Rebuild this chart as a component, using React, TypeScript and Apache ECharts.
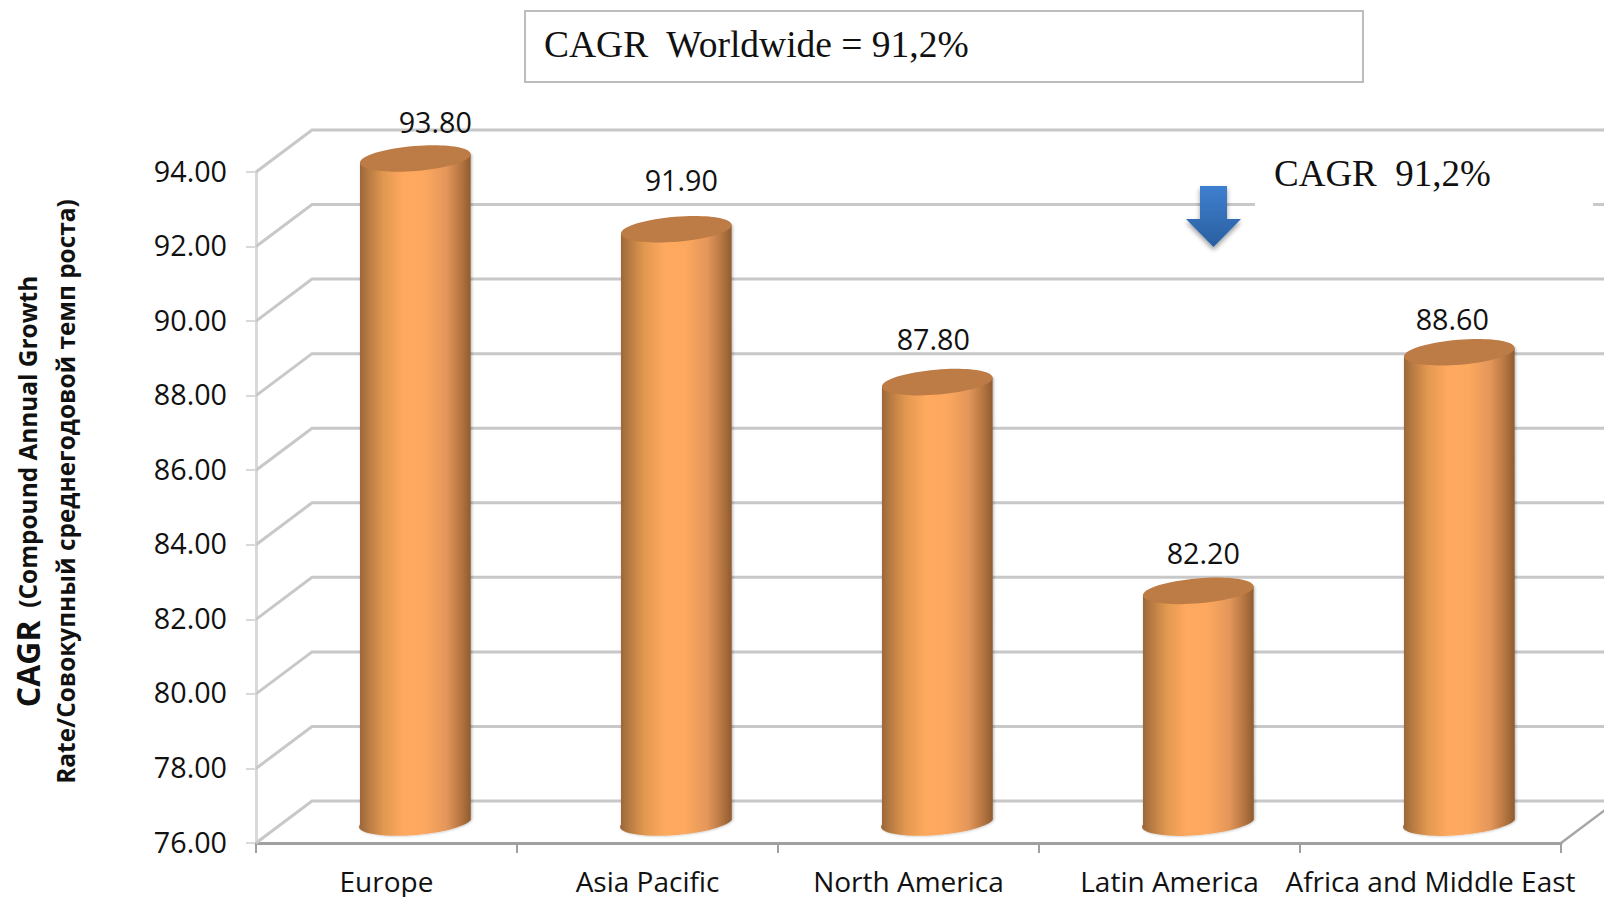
import React, { useEffect, useRef } from "react";
import * as echarts from "echarts";

const categories = ["Europe", "Asia Pacific", "North America", "Latin America", "Africa and Middle East"];
const cagrValues = [93.8, 91.9, 87.8, 82.2, 88.6];
const gridTicks = [76, 78, 80, 82, 84, 86, 88, 90, 92, 94];

const boxTitle = "CAGR  Worldwide = 91,2%";
const noteTitle = "CAGR  91,2%";

const labelShiftX = [20, 5, -4, 5, -7];
const labelShiftY = [-37, -50, -44, -38, -34];

const DEPTH_X = 56;
const DEPTH_Y = 42;
const CYL_SHIFT = 0.8;
const BASE_LIFT = 2;
const RX = 55.5;
const RY = 12.5;
const TILT = 0.082;
const SANS = '"Open Sans", sans-serif';
const SERIF = '"Liberation Serif", serif';

const bodyFill = new echarts.graphic.LinearGradient(0, 0, 1, 0, [
  { offset: 0, color: "#98653a" },
  { offset: 0.08, color: "#b67a42" },
  { offset: 0.22, color: "#e29850" },
  { offset: 0.4, color: "#ffa95f" },
  { offset: 0.58, color: "#fda85e" },
  { offset: 0.78, color: "#e4975a" },
  { offset: 0.92, color: "#b27340" },
  { offset: 1, color: "#8f5b30" },
]);

function renderWall(_p: any, api: any) {
  const v = api.value(0);
  const band = api.size([1, 0])[0];
  const front = api.coord([0, v]);
  const x0 = front[0] - band / 2;
  const last = api.coord([categories.length - 1, v])[0] + band / 2;
  return {
    type: "polyline",
    shape: {
      points: [
        [x0, front[1]],
        [x0 + DEPTH_X, front[1] - DEPTH_Y],
        [last + DEPTH_X, front[1] - DEPTH_Y],
      ],
    },
    style: { stroke: "#c8c8c8", lineWidth: 3, fill: "none" },
    silent: true,
  };
}

function renderFloorEdge(_p: any, api: any) {
  const band = api.size([1, 0])[0];
  const p = api.coord([categories.length - 1, 76]);
  const x = p[0] + band / 2;
  return {
    type: "line",
    shape: { x1: x, y1: p[1], x2: x + DEPTH_X, y2: p[1] - DEPTH_Y },
    style: { stroke: "#a6a6a6", lineWidth: 2.5 },
    silent: true,
  };
}

function renderCylinder(_p: any, api: any) {
  const i = api.value(0);
  const v = api.value(1);
  const top = api.coord([i, v]);
  const base = api.coord([i, 76]);
  const cx = top[0] + DEPTH_X / 2 + CYL_SHIFT;
  const topY = top[1] - DEPTH_Y / 2;
  const baseY = base[1] - DEPTH_Y / 2 - BASE_LIFT;
  const ex = RX * Math.cos(TILT);
  const ey = RX * Math.sin(TILT);
  const deg = (TILT * 180) / Math.PI;
  const d =
    `M ${cx - ex} ${topY + ey} L ${cx - ex} ${baseY + ey} ` +
    `A ${RX} ${RY} ${-deg} 0 0 ${cx + ex} ${baseY - ey} ` +
    `L ${cx + ex} ${topY - ey} Z`;
  return {
    type: "group",
    children: [
      {
        type: "path",
        shape: { pathData: d },
        style: { fill: bodyFill, shadowColor: "rgba(0,0,0,0.3)", shadowBlur: 3, shadowOffsetX: 1 },
      },
      {
        type: "ellipse",
        x: cx,
        y: topY,
        rotation: TILT,
        shape: { cx: 0, cy: 0, rx: RX, ry: RY },
        style: { fill: "#bd7b46" },
      },
      {
        type: "text",
        x: cx + labelShiftX[i],
        y: topY + labelShiftY[i],
        style: {
          text: v.toFixed(2),
          fontFamily: SANS,
          fontSize: 28.7,
          fill: "#111111",
          align: "center",
          verticalAlign: "middle",
        },
      },
    ],
  };
}

export default function App() {
  const ref = useRef<HTMLDivElement>(null);

  useEffect(() => {
    document.body.style.margin = "0";
    const chart = echarts.init(ref.current!, undefined, { renderer: "svg" });
    chart.setOption({
      animation: false,
      backgroundColor: "#ffffff",
      grid: { left: 256, right: 43, top: 172, bottom: 54, containLabel: false },
      xAxis: {
        type: "category",
        data: categories,
        axisLine: { lineStyle: { color: "#a0a0a0", width: 3 } },
        axisTick: { show: true, length: 10, lineStyle: { color: "#a0a0a0", width: 2 } },
        axisLabel: {
          interval: 0,
          color: "#111111",
          fontFamily: SANS,
          fontSize: 28,
          lineHeight: 30,
          margin: 23,
        },
      },
      yAxis: {
        type: "value",
        min: 76,
        max: 94,
        interval: 2,
        splitLine: { show: false },
        axisLine: { show: true, lineStyle: { color: "#d9d9d9", width: 3 } },
        axisTick: { show: true, length: 10, lineStyle: { color: "#d9d9d9", width: 2 } },
        axisLabel: {
          color: "#111111",
          fontFamily: SANS,
          fontSize: 28.7,
          margin: 29,
          verticalAlign: "bottom",
          lineHeight: 4,
          formatter: (val: number) => val.toFixed(2),
        },
      },
      series: [
        {
          type: "custom",
          name: "walls",
          coordinateSystem: "cartesian2d",
          clip: false,
          z: 1,
          silent: true,
          encode: { y: 0 },
          data: gridTicks.map((t) => [t]),
          renderItem: renderWall,
        },
        {
          type: "custom",
          name: "floor edge",
          coordinateSystem: "cartesian2d",
          clip: false,
          z: 1,
          silent: true,
          data: [[0, 76]],
          renderItem: renderFloorEdge,
        },
        {
          type: "custom",
          name: "CAGR",
          coordinateSystem: "cartesian2d",
          clip: false,
          z: 3,
          encode: { x: 0, y: 1 },
          data: cagrValues.map((v, i) => [i, v]),
          renderItem: renderCylinder,
        },
      ],
      graphic: [
        {
          type: "rect",
          z: 10,
          shape: { x: 525, y: 11, width: 838, height: 71 },
          style: { fill: "#ffffff", stroke: "#bdbdbd", lineWidth: 2 },
        },
        {
          type: "text",
          z: 11,
          x: 544,
          y: 44,
          style: { text: boxTitle, fontFamily: SERIF, fontSize: 37.5, fill: "#111111", verticalAlign: "middle" },
        },
        {
          type: "rect",
          z: 10,
          shape: { x: 1255, y: 136, width: 338, height: 100 },
          style: { fill: "#ffffff" },
        },
        {
          type: "text",
          z: 11,
          x: 1274,
          y: 173,
          style: { text: noteTitle, fontFamily: SERIF, fontSize: 37, fill: "#111111", verticalAlign: "middle" },
        },
        {
          type: "polygon",
          z: 12,
          shape: {
            points: [
              [1200, 186],
              [1227, 186],
              [1227, 219],
              [1241, 219],
              [1213.5, 247],
              [1186, 219],
              [1200, 219],
            ],
          },
          style: {
            fill: new echarts.graphic.LinearGradient(0, 0, 0, 1, [
              { offset: 0, color: "#3f7fcf" },
              { offset: 1, color: "#2a5f9f" },
            ]),
            shadowColor: "rgba(0,0,0,0.4)",
            shadowBlur: 5,
            shadowOffsetY: 3,
          },
        },
        {
          type: "text",
          z: 11,
          x: 46,
          y: 491.5,
          rotation: Math.PI / 2,
          style: {
            text: "{a|CAGR}{b|  (Compound Annual Growth}\n{b|Rate/Совокупный среднегодовой темп роста)}",
            align: "center",
            verticalAlign: "middle",
            fill: "#111111",
            rich: {
              a: { fontFamily: SANS, fontWeight: "bold", fontSize: 32, lineHeight: 38, fill: "#111111" },
              b: { fontFamily: SANS, fontWeight: "bold", fontSize: 24.4, lineHeight: 38, fill: "#111111" },
            },
          },
        },
      ],
    });
    return () => chart.dispose();
  }, []);

  return <div ref={ref} style={{ position: "absolute", left: 0, top: 0, width: 1604, height: 897 }} />;
}
